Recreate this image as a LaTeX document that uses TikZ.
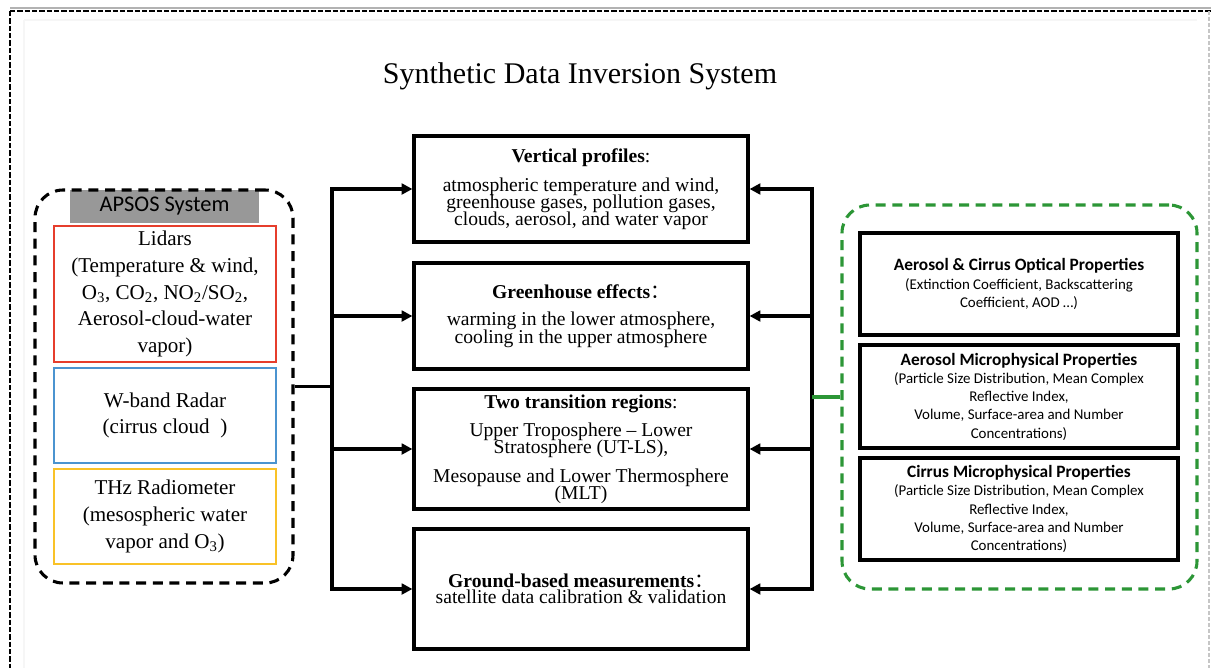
\documentclass[tikz,border=0pt]{standalone}
\usepackage{fontspec}
\setmainfont{Liberation Serif}
\setsansfont{Carlito}
\newfontfamily\cjkfont{Noto Sans CJK SC}
\usetikzlibrary{arrows.meta}

\definecolor{lidarred}{RGB}{230,62,44}
\definecolor{radarblue}{RGB}{75,148,208}
\definecolor{thzyellow}{RGB}{249,194,40}
\definecolor{grpgreen}{RGB}{44,150,54}
\definecolor{hdrgray}{RGB}{152,152,152}

% fonts of the three columns
\newcommand\tightlines{\lineskiplimit=-100pt\lineskip=0pt}
\newcommand\leftfont{\fontsize{15.8pt}{20pt}\selectfont\tightlines}
\newcommand\midfont{\fontsize{14.7pt}{12.7pt}\selectfont\tightlines}
\newcommand\rightfont{\sffamily\fontsize{11.2pt}{13.7pt}\selectfont\tightlines}
\newcommand\rtitle[1]{{\fontsize{13pt}{13.7pt}\selectfont\bfseries #1}}
\newcommand\wcolon{{\cjkfont ：}}

\begin{document}
\begin{tikzpicture}[x=0.75pt,y=-0.75pt,
  every node/.style={inner sep=0pt,align=center},
  title/.style={font=\fontsize{22.5pt}{27pt}\selectfont,anchor=base},
  group/.style={draw,line width=2.3pt,dash pattern=on 7.5pt off 5pt,rounded corners=21pt},
  hdrbox/.style={fill=hdrgray,font=\sffamily\fontsize{16.8pt}{18pt}\selectfont,
    minimum width={189*0.75pt},minimum height={33*0.75pt}},
  instr/.style={draw,line width=2.2pt,fill=white,font=\leftfont,minimum width={222*0.75pt}},
  midbox/.style={draw,line width=2.4pt,font=\midfont,minimum width={334*0.75pt}},
  propbox/.style={draw,line width=2.4pt,font=\rightfont,minimum width={318*0.75pt}},
  link/.style={line width=2.4pt},
  arrowlink/.style={line width=2.4pt,-{Triangle[length=8pt,width=8pt]}},
  greenlink/.style={line width=2.4pt,draw=grpgreen},
  frame/.style={line width=2.2pt,dash pattern=on 4pt off 1.5pt}
]
\useasboundingbox (0,0) rectangle (1211,668);
\fill[white] (0,0) rectangle (1211,668);

% outer frame
\draw[gray!60,line width=2pt] (10,8) -- (1211,8);
\draw[gray!7,line width=0.8pt] (24,20) -- (1197,20);
\draw[gray!7,line width=0.8pt] (24,20) -- (24,668);
\draw[frame] (10,11) -- (1211,11);
\draw[frame] (10,11) -- (10,668);
\draw[gray!45,line width=0.8pt,dash pattern=on 3pt off 1.5pt] (1209,11) -- (1209,668);

% title
\node[title] (title) at (580,83) {Synthetic Data Inversion System};

% APSOS instruments
\node[hdrbox] (hdr) at (164.5,206.5) {APSOS System};
\node[instr,draw=lidarred,minimum height={136*0.75pt}] (lidar) at (165,294)
  {Lidars\\(Temperature \& wind,\\O\textsubscript{3}, CO\textsubscript{2}, NO\textsubscript{2}/SO\textsubscript{2},\\Aerosol-cloud-water\\vapor)};
\node[instr,draw=radarblue,minimum height={95*0.75pt}] (radar) at (165,415.5)
  {W-band Radar\\(cirrus cloud\ \ )};
\node[instr,draw=thzyellow,minimum height={95*0.75pt}] (thz) at (165,516.5)
  {THz Radiometer\\(mesospheric water\\vapor and O\textsubscript{3})};
\node[group,minimum width={258*0.75pt},minimum height={393*0.75pt}] (apsos) at (164,386.5) {};

% products
\node[midbox,minimum height={106*0.75pt}] (vp) at (581,189)
  {\textbf{Vertical profiles}:\\[9pt]atmospheric temperature and wind,\\greenhouse gases, pollution gases,\\clouds, aerosol, and water vapor};
\node[midbox,minimum height={106*0.75pt}] (gh) at (581,316)
  {\textbf{Greenhouse effects}\wcolon\\[7.5pt]warming in the lower atmosphere,\\[0.8pt]cooling in the upper atmosphere};
\node[midbox,minimum height={120*0.75pt}] (tt) at (581,449)
  {\textbf{Two transition regions}:\\[8.3pt]Upper Troposphere -- Lower\\Stratosphere (UT-LS),\\[9pt]Mesopause and Lower Thermosphere\\(MLT)};
\node[midbox,minimum height={120*0.75pt}] (gm) at (581,589)
  {\textbf{Ground-based measurements}\wcolon\\[-0.5pt]satellite data calibration \& validation};

% retrieved properties
\node[propbox,minimum height={102*0.75pt}] (opt) at (1019,284)
  {\rtitle{Aerosol \& Cirrus Optical Properties}\\(Extinction Coefficient, Backscattering\\Coefficient, AOD …)};
\node[propbox,minimum height={103*0.75pt}] (amp) at (1019,396.5)
  {\rtitle{Aerosol Microphysical Properties}\\(Particle Size Distribution, Mean Complex\\Reflective Index,\\Volume, Surface-area and Number\\Concentrations)};
\node[propbox,minimum height={102*0.75pt}] (cmp) at (1019,509)
  {\rtitle{Cirrus Microphysical Properties}\\(Particle Size Distribution, Mean Complex\\Reflective Index,\\Volume, Surface-area and Number\\Concentrations)};
\node[group,draw=grpgreen,minimum width={355*0.75pt},minimum height={384*0.75pt}] (props) at (1019.5,397) {};

% connectors
\coordinate (lj) at (332,386.5);
\coordinate (rj) at (812,397);
\draw[link] (apsos.east) -- (lj);
\foreach \t in {vp,gh,tt,gm} \draw[arrowlink] (lj) |- (\t.west);
\foreach \t in {vp,gh,tt,gm} \draw[arrowlink] (rj) |- (\t.east);
\draw[greenlink] (props.west) -- (rj);
\end{tikzpicture}
\end{document}
